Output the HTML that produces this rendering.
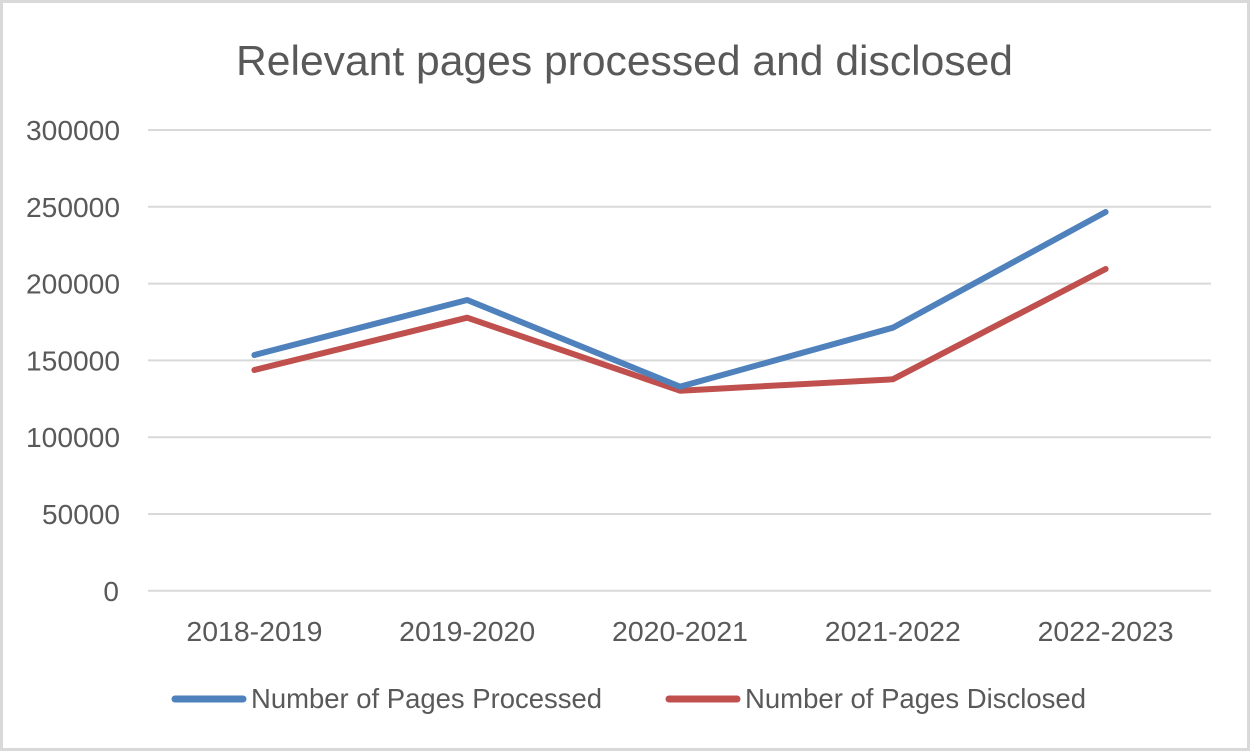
<!DOCTYPE html>
<html>
<head>
<meta charset="utf-8">
<style>
  html,body{margin:0;padding:0;background:#fff;}
  svg{display:block;}
  text{font-family:"Liberation Sans",sans-serif;fill:#595959;}
</style>
</head>
<body>
<svg width="1251" height="752" viewBox="0 0 1251 752" xmlns="http://www.w3.org/2000/svg">
  <rect x="0" y="0" width="1251" height="752" fill="#fff"/>
  <rect x="1.5" y="1.5" width="1247" height="748" fill="none" stroke="#d9d9d9" stroke-width="3"/>

  <text x="624.5" y="75" font-size="42" text-anchor="middle" textLength="777" lengthAdjust="spacingAndGlyphs">Relevant pages processed  and disclosed</text>

  <g stroke="#d9d9d9" stroke-width="2">
    <line x1="148" y1="130" x2="1211" y2="130"/>
    <line x1="148" y1="206.8" x2="1211" y2="206.8"/>
    <line x1="148" y1="283.6" x2="1211" y2="283.6"/>
    <line x1="148" y1="360.4" x2="1211" y2="360.4"/>
    <line x1="148" y1="437.2" x2="1211" y2="437.2"/>
    <line x1="148" y1="514" x2="1211" y2="514"/>
    <line x1="148" y1="590.8" x2="1211" y2="590.8"/>
  </g>

  <g font-size="28" text-anchor="end">
    <text x="120" y="140" textLength="94" lengthAdjust="spacingAndGlyphs">300000</text>
    <text x="120" y="216.8" textLength="94" lengthAdjust="spacingAndGlyphs">250000</text>
    <text x="120" y="293.6" textLength="94" lengthAdjust="spacingAndGlyphs">200000</text>
    <text x="120" y="370.4" textLength="94" lengthAdjust="spacingAndGlyphs">150000</text>
    <text x="120" y="447.2" textLength="94" lengthAdjust="spacingAndGlyphs">100000</text>
    <text x="120" y="524" textLength="78" lengthAdjust="spacingAndGlyphs">50000</text>
    <text x="119" y="600.8">0</text>
  </g>

  <g font-size="28" text-anchor="middle">
    <text x="254.4" y="641" textLength="136" lengthAdjust="spacingAndGlyphs">2018-2019</text>
    <text x="467.2" y="641" textLength="136" lengthAdjust="spacingAndGlyphs">2019-2020</text>
    <text x="680" y="641" textLength="136" lengthAdjust="spacingAndGlyphs">2020-2021</text>
    <text x="892.8" y="641" textLength="136" lengthAdjust="spacingAndGlyphs">2021-2022</text>
    <text x="1105.6" y="641" textLength="136" lengthAdjust="spacingAndGlyphs">2022-2023</text>
  </g>

  <polyline points="254.4,370 467.2,317.7 680,390.7 892.8,379.3 1105.6,269" fill="none" stroke="#C0504D" stroke-width="6" stroke-linecap="round" stroke-linejoin="round"/>
  <polyline points="254.4,355 467.2,300 680,386.7 892.8,327.7 1105.6,212" fill="none" stroke="#4F81BD" stroke-width="6" stroke-linecap="round" stroke-linejoin="round"/>

  <line x1="175" y1="699" x2="243" y2="699" stroke="#4F81BD" stroke-width="7" stroke-linecap="round"/>
  <text x="251" y="708" font-size="28" textLength="351" lengthAdjust="spacingAndGlyphs">Number of Pages Processed</text>
  <line x1="669" y1="699" x2="737" y2="699" stroke="#C0504D" stroke-width="7" stroke-linecap="round"/>
  <text x="745" y="708" font-size="28" textLength="341" lengthAdjust="spacingAndGlyphs">Number of Pages Disclosed</text>
</svg>
</body>
</html>
